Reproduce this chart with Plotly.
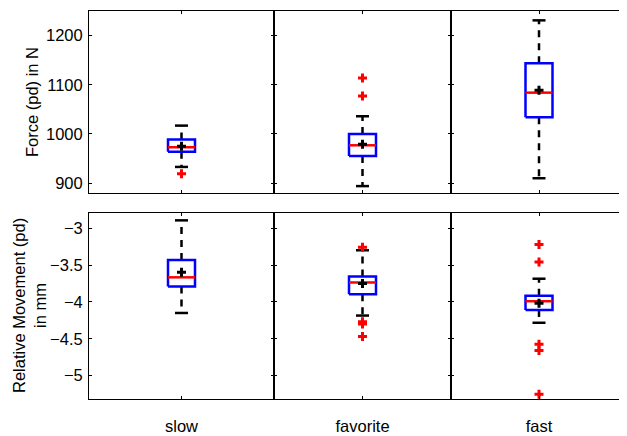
import plotly.graph_objects as go
from plotly.subplots import make_subplots

categories = ["slow", "favorite", "fast"]

# Force (pd) in N
force_upper = [1017, 1036, 1231]
force_q3 = [989, 1000, 1144]
force_median = [973, 977, 1084]
force_q1 = [964, 955, 1034]
force_lower = [933, 894, 910]
force_mean = [975, 979, 1089]
force_outliers = [[919], [1114, 1077], []]

# Relative Movement (pd) in mm
move_upper = [-2.89, -3.297, -3.684]
move_q3 = [-3.43, -3.654, -3.915]
move_median = [-3.665, -3.735, -3.99]
move_q1 = [-3.79, -3.895, -4.109]
move_lower = [-4.15, -4.185, -4.283]
move_mean = [-3.595, -3.75, -4.018]
move_outliers = [[], [-3.255, -4.27, -4.30, -4.47], [-3.22, -3.455, -4.574, -4.66, -5.255]]

force_ticks = [900, 1000, 1100, 1200]
force_ticktext = ["900", "1000", "1100", "1200"]
move_ticks = [-5, -4.5, -4, -3.5, -3]
move_ticktext = ["\u22125", "\u22124.5", "\u22124", "\u22123.5", "\u22123"]

# the page body has an 8px margin, so the figure is placed at (8, 8)
OFF = 8
W, H = 627 - OFF, 436 - OFF
ML, MR, MT, MB = 89 - OFF, 0, 11 - OFF, 37
pw = W - ML - MR
ph = H - MT - MB
col_px = [185, 177, 176]
bounds = [0]
for c in col_px:
    bounds.append(bounds[-1] + c)
xdom = [[bounds[i] / pw, min(bounds[i + 1] / pw, 1.0)] for i in range(3)]
top_dom = [(399 - 193) / ph, 1.0]
bot_dom = [0.0, (399 - 213) / ph]

fig = make_subplots(rows=2, cols=3)

BLUE = "#0000ff"
RED = "#ff0000"
FONT = "Liberation Sans, Arial, sans-serif"
FS = 16.5


def add_box(row, col, up, q3, med, q1, lo, mean, outs):
    c = 1.0
    hw = 13.5 / col_px[col - 1]
    cw = 6.5 / col_px[col - 1]
    for a, b in [(q3, up), (q1, lo)]:
        fig.add_trace(go.Scatter(x=[c, c], y=[a, b], mode="lines",
                                 line=dict(color="black", width=2.5, dash="7px,6px"),
                                 hoverinfo="skip", showlegend=False), row=row, col=col)
    for v in [up, lo]:
        fig.add_trace(go.Scatter(x=[c - cw, c + cw], y=[v, v], mode="lines",
                                 line=dict(color="black", width=2.5),
                                 hoverinfo="skip", showlegend=False), row=row, col=col)
    fig.add_trace(go.Scatter(x=[c - hw, c + hw, c + hw, c - hw, c - hw],
                             y=[q1, q1, q3, q3, q1], mode="lines",
                             line=dict(color=BLUE, width=2.5),
                             hoverinfo="skip", showlegend=False), row=row, col=col)
    fig.add_trace(go.Scatter(x=[c - hw, c + hw], y=[med, med], mode="lines",
                             line=dict(color=RED, width=2.5),
                             hoverinfo="skip", showlegend=False), row=row, col=col)
    if outs:
        fig.add_trace(go.Scatter(x=[c] * len(outs), y=outs, mode="markers",
                                 marker=dict(symbol="cross", size=7.5, color=RED,
                                             line=dict(width=0)),
                                 hoverinfo="skip", showlegend=False), row=row, col=col)
    fig.add_trace(go.Scatter(x=[c], y=[mean], mode="markers",
                             marker=dict(symbol="cross", size=7.5, color="black",
                                         line=dict(width=0)),
                             hoverinfo="skip", showlegend=False), row=row, col=col)


for i in range(3):
    add_box(1, i + 1, force_upper[i], force_q3[i], force_median[i], force_q1[i],
            force_lower[i], force_mean[i], force_outliers[i])
    add_box(2, i + 1, move_upper[i], move_q3[i], move_median[i], move_q1[i],
            move_lower[i], move_mean[i], move_outliers[i])

for r in (1, 2):
    for cidx in range(3):
        col = cidx + 1
        fig.update_xaxes(row=r, col=col, domain=xdom[cidx], range=[0.5, 1.5],
                         showgrid=False, zeroline=False, showline=True, linecolor="black",
                         linewidth=1, mirror="ticks", ticks="inside", ticklen=3,
                         tickcolor="black", tickvals=[1],
                         ticktext=[categories[cidx]] if r == 2 else [""],
                         showticklabels=(r == 2), ticklabelstandoff=12,
                         tickfont=dict(family=FONT, size=FS, color="black"))
        if r == 1:
            fig.update_yaxes(row=r, col=col, domain=top_dom, range=[880, 1250],
                             tickvals=force_ticks, ticktext=force_ticktext)
        else:
            fig.update_yaxes(row=r, col=col, domain=bot_dom, range=[-5.32, -2.79],
                             tickvals=move_ticks, ticktext=move_ticktext)
        fig.update_yaxes(row=r, col=col, showgrid=False, zeroline=False, showline=True,
                         linecolor="black", linewidth=1, mirror="ticks", ticks="inside",
                         ticklen=3, tickcolor="black", showticklabels=(col == 1),
                         ticklabelstandoff=2,
                         tickfont=dict(family=FONT, size=FS, color="black"))

fig.add_annotation(text="Force (pd) in N", xref="paper", yref="paper",
                   x=(32 - 89) / pw, y=(399 - 102) / ph, textangle=-90,
                   showarrow=False, xanchor="center", yanchor="middle",
                   font=dict(family=FONT, size=FS, color="black"))
fig.add_annotation(text="Relative Movement (pd)<br>in mm", xref="paper", yref="paper",
                   x=(29 - 89) / pw, y=(399 - 306) / ph, textangle=-90,
                   showarrow=False, xanchor="center", yanchor="middle",
                   font=dict(family=FONT, size=FS, color="black"))

fig.update_layout(width=W, height=H, margin=dict(l=ML, r=MR, t=MT, b=MB),
                  paper_bgcolor="white", plot_bgcolor="white", showlegend=False,
                  font=dict(family=FONT, size=FS, color="black"))

fig.write_html("out.html")
